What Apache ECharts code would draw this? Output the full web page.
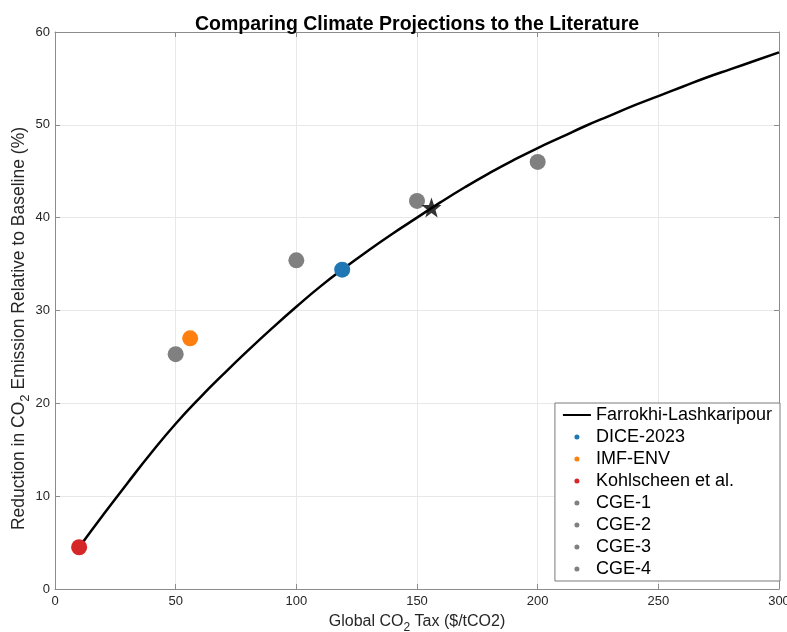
<!DOCTYPE html>
<html>
<head>
<meta charset="utf-8">
<script src="https://cdn.jsdelivr.net/npm/echarts@6/dist/echarts.min.js"></script>
<style>html,body{margin:0;padding:0;background:#fff;overflow:hidden}#c{width:787px;height:632px}</style>
</head>
<body>
<div id="c"></div>
<script>
// Data
const curveX = [10,20,30,40,50,60,70,80,90,100,110,120,130,140,150,160,170,180,190,200,210,220,230,240,250,260,270,280,290,300];
const curveY = [4.5,8.0,11.4,14.7,17.8,20.6,23.2,25.7,28.1,30.4,32.6,34.6,36.5,38.3,40.0,41.7,43.3,44.8,46.2,47.5,48.7,49.9,51.0,52.1,53.1,54.1,55.1,56.0,56.9,57.8];
const pointNames = ['DICE-2023','IMF-ENV','Kohlscheen et al.','CGE-1','CGE-2','CGE-3','CGE-4'];
const pointX = [119, 56, 10, 50, 100, 150, 200];
const pointY = [34.4, 27.0, 4.5, 25.3, 35.4, 41.8, 46.0];
const pointColors = ['#1f77b4','#ff7f0e','#d62728','#808080','#808080','#808080','#808080'];
const starX = [156];
const starY = [41.1];
const xTicks = [0,50,100,150,200,250,300];
const yTicks = [0,10,20,30,40,50,60];

const FONT = '"Liberation Sans", Arial, Helvetica, sans-serif';
const axisColor = '#8c8c8c';
const textColor = '#262626';
const STAR = 'path://M0,-10 L2.35,-3.24 L9.51,-3.09 L3.8,1.24 L5.88,8.09 L0,4 L-5.88,8.09 L-3.8,1.24 L-9.51,-3.09 L-2.35,-3.24 Z';

const chart = echarts.init(document.getElementById('c'), null, {renderer: 'canvas'});

const series = [{
  name: 'Farrokhi-Lashkaripour',
  type: 'line',
  data: curveX.map((x, i) => [x, curveY[i]]),
  smooth: true,
  showSymbol: false,
  symbol: 'none',
  lineStyle: {color: '#000', width: 2.5},
  itemStyle: {color: '#000'},
  z: 2
}];
pointNames.forEach((n, i) => {
  series.push({
    name: n,
    type: 'scatter',
    data: [[pointX[i], pointY[i]]],
    symbol: 'circle',
    symbolSize: 16,
    itemStyle: {color: pointColors[i], opacity: 1},
    z: 3
  });
});
series.push({
  name: 'Star',
  type: 'scatter',
  data: starX.map((x, i) => [x, starY[i]]),
  symbol: STAR,
  symbolSize: 20,
  itemStyle: {color: '#000'},
  z: 4
});

function richName(size) {
  return {
    n: {fontSize: size, fontFamily: FONT, color: textColor, verticalAlign: 'top'},
    s: {fontSize: Math.round(size * 0.72), fontFamily: FONT, color: textColor, verticalAlign: 'top', padding: [Math.round(size * 0.5), 0, 0, 0]}
  };
}

const baseAxis = {
  axisLine: {show: true, onZero: false, lineStyle: {color: axisColor, width: 1}},
  axisTick: {show: true, inside: true, length: 5, lineStyle: {color: axisColor}},
};

chart.setOption({
  animation: false,
  backgroundColor: '#fff',
  title: {
    text: 'Comparing Climate Projections to the Literature',
    left: 412, top: 10, textAlign: 'center',
    textStyle: {fontFamily: FONT, fontSize: 19.5, fontWeight: 'bold', color: '#000'}
  },
  grid: {left: 55, right: 8, top: 32, bottom: 43, containLabel: false, outerBoundsMode: 'none'},
  legend: {
    data: [
      {name: 'Farrokhi-Lashkaripour', itemStyle: {opacity: 0}},
      ...pointNames.map(n => ({name: n, icon: 'circle'}))
    ],
    orient: 'vertical',
    right: 7, top: 403,
    itemWidth: 28, itemHeight: 5, itemGap: 4,
    padding: [3, 8, 3, 7],
    backgroundColor: '#fff',
    borderColor: '#7a7a7a', borderWidth: 1, borderRadius: 0,
    textStyle: {fontFamily: FONT, fontSize: 18, color: '#000'}
  },
  xAxis: [{
    type: 'value', min: 0, max: 300, interval: 50,
    ...baseAxis,
    name: '{n|Global CO}{s|2}{n| Tax ($/tCO2)}',
    nameLocation: 'middle', nameGap: 25,
    nameTextStyle: {rich: richName(16)},
    axisLabel: {color: textColor, fontFamily: FONT, fontSize: 13, margin: 6, formatter: v => xTicks.includes(v) ? String(v) : ''},
    splitLine: {show: true, lineStyle: {color: '#e8e8e8', width: 1}}
  }, {
    type: 'value', min: 0, max: 300, interval: 50, position: 'top',
    ...baseAxis,
    axisLabel: {show: false}, splitLine: {show: false}
  }],
  yAxis: [{
    type: 'value', min: 0, max: 60, interval: 10,
    ...baseAxis,
    name: '{n|Reduction in CO}{s|2}{n| Emission Relative to Baseline (%)}',
    nameLocation: 'middle', nameGap: 23, nameRotate: 90, nameMoveOverlap: false,
    nameTextStyle: {rich: richName(17.5), padding: [0, 36, 0, 0]},
    axisLabel: {color: textColor, fontFamily: FONT, fontSize: 13, margin: 5, formatter: v => yTicks.includes(v) ? String(v) : ''},
    splitLine: {show: true, lineStyle: {color: '#e8e8e8', width: 1}}
  }, {
    type: 'value', min: 0, max: 60, interval: 10, position: 'right',
    ...baseAxis,
    axisLabel: {show: false}, splitLine: {show: false}
  }],
  series: series
});
</script>
</body>
</html>
